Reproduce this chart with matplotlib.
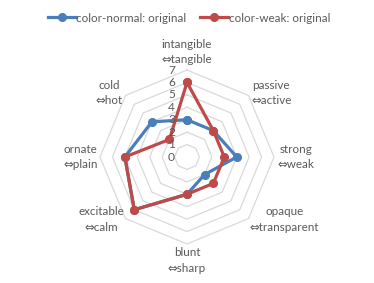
import numpy as np
import matplotlib
matplotlib.use('Agg')
import matplotlib.pyplot as plt
from matplotlib.transforms import ScaledTranslation

categories = ['intangible\n⇔tangible', 'passive\n⇔active', 'strong\n⇔weak',
              'opaque\n⇔transparent', 'blunt\n⇔sharp', 'excitable\n⇔calm',
              'ornate\n⇔plain', 'cold\n⇔hot']
normal_values = [3, 3, 4, 2, 3, 6, 5, 4]
weak_values = [6, 3, 3, 3, 3, 6, 5, 2]
series_names = ['color-normal: original', 'color-weak: original']
tick_values = [0, 1, 2, 3, 4, 5, 6, 7]

plt.rcParams['font.family'] = ['Lato', 'DejaVu Sans']
TXT = '#595959'
BLUE = '#4A7EBB'
RED = '#BE4B48'
FS = 8.4

fig = plt.figure(figsize=(3.74, 2.83), dpi=100)
ax = fig.add_axes([0.2674, 0.1378, 0.4652, 0.6148], projection='polar')
ax.set_theta_zero_location('N')
ax.set_theta_direction(-1)
ax.set_ylim(0, 7)
ax.axis('off')

n = len(categories)
angles = np.arange(n) * 2 * np.pi / n
closed = np.append(angles, angles[0])

for k in tick_values[1:]:
    ax.plot(closed, [k] * (n + 1), color='#D9D9D9', lw=0.9, clip_on=False, zorder=1)

for vals, col, name in [(normal_values, BLUE, series_names[0]),
                        (weak_values, RED, series_names[1])]:
    ax.plot(closed, vals + vals[:1], color=col, lw=2.3, marker='o', ms=5.5,
            clip_on=False, zorder=3, label=name)

pads = [8.45, 7.3, 7.3, 7.1, 8.33, 7.1, 7.2, 7.3]
for a, lab, r in zip(angles, categories, pads):
    s = np.sin(a)
    ha = 'left' if s > 0.1 else ('right' if s < -0.1 else 'center')
    ax.text(a, r, lab, ha=ha, va='center', multialignment='center',
            color=TXT, fontsize=FS, linespacing=1.5)

off = ax.transData + ScaledTranslation(-12 / 100, 0, fig.dpi_scale_trans)
for t in tick_values:
    ax.text(0, t, str(t), transform=off, ha='right', va='center',
            color=TXT, fontsize=FS + 0.2)

fig.legend(loc='center', bbox_to_anchor=(0.505, 1 - 18 / 283), ncol=2,
           frameon=False, fontsize=FS, labelcolor=TXT, handlelength=2.4,
           handletextpad=0.05, columnspacing=1.15)

fig.savefig('out.png', dpi=100)
